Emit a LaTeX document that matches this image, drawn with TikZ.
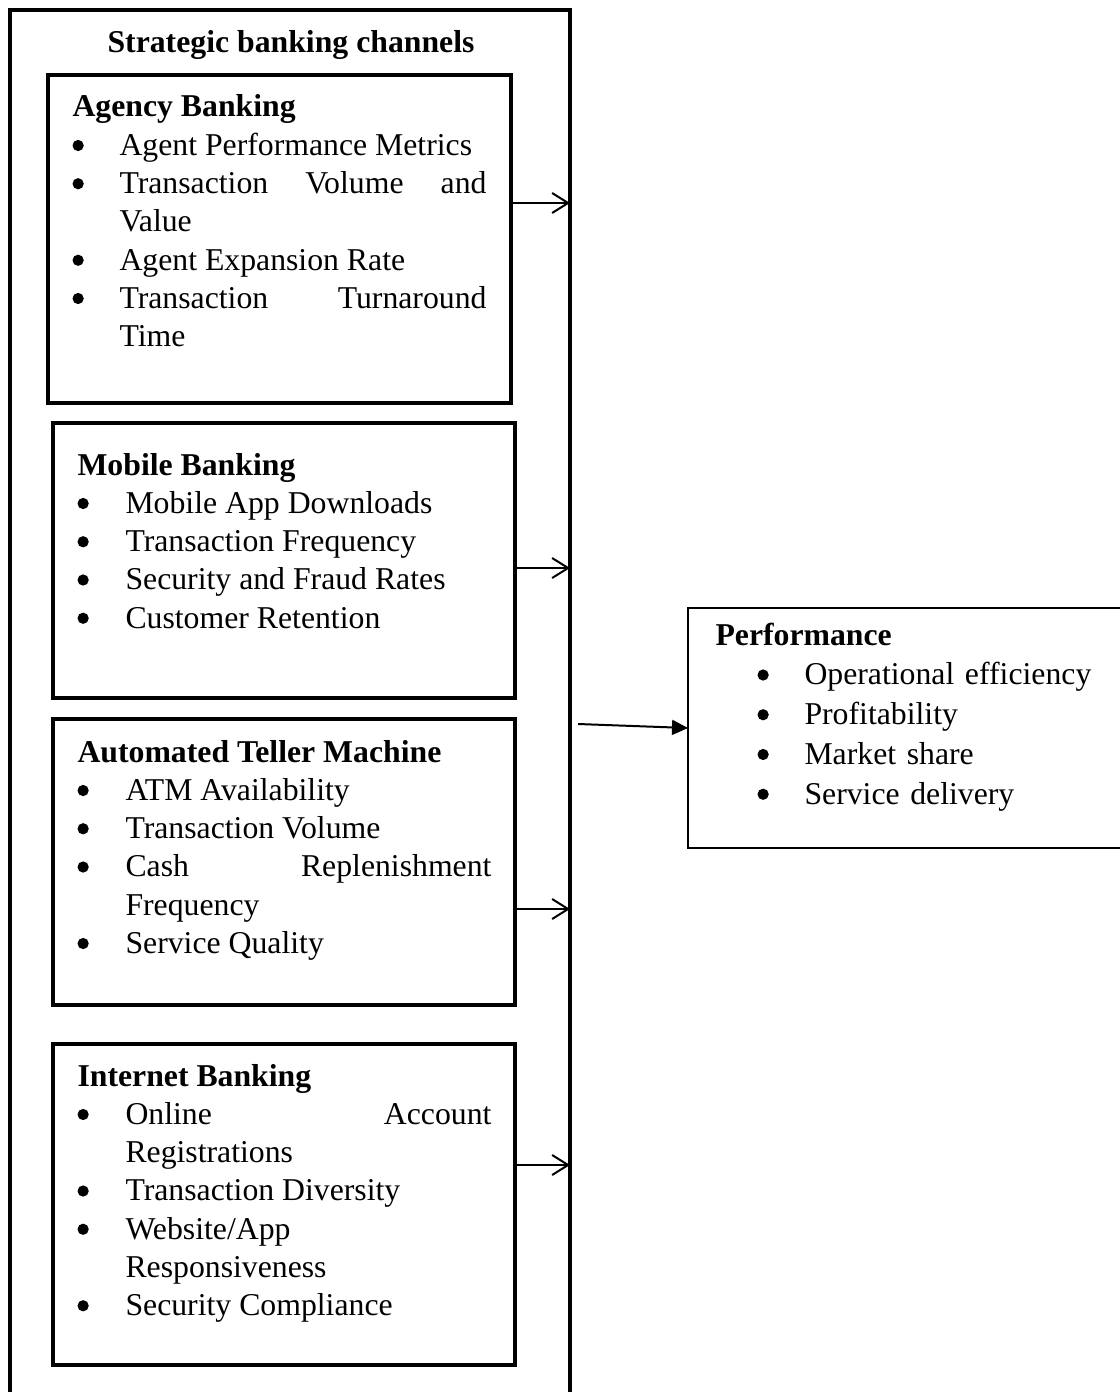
\documentclass[tikz,border=0pt]{standalone}
\usepackage{fontspec}
\setmainfont{Liberation Serif}
\usepackage{tikz}
\usetikzlibrary{arrows.meta}
\hyphenpenalty=10000
\tolerance=9999
\hbadness=10000
\newcommand{\listfont}{\fontsize{12.7}{15.3}\selectfont}
\newcommand{\bigbullet}{\tikz[baseline=-3.9pt]\fill (0pt,0pt) circle (2.25pt);}
\newcommand{\bulletlabel}[1]{#1\hfil}
% #1 = where the bullet sits, #2 = where the item text starts
\newenvironment{bullets}[2]{\begin{list}{\bigbullet}{%
  \setlength{\leftmargin}{#2}\setlength{\labelwidth}{\dimexpr#2-#1\relax}%
  \setlength{\labelsep}{0pt}\setlength{\itemindent}{0pt}%
  \setlength{\topsep}{0pt}\setlength{\partopsep}{0pt}%
  \setlength{\itemsep}{0pt}\setlength{\parsep}{0pt}%
  \let\makelabel\bulletlabel}}{\end{list}}
\tikzset{
  outerbox/.style={draw,line width=1.8pt,anchor=north west,inner sep=0pt,outer sep=0pt},
  chanbox/.style={draw,line width=1.6pt,anchor=north west,inner sep=0pt,outer sep=0pt},
  perfbox/.style={draw,line width=0.6pt,anchor=north west,inner sep=0pt,outer sep=0pt},
  chantext/.style={anchor=base west,inner sep=0pt,text width=165.6pt,align=justify,font=\listfont},
  perftext/.style={anchor=base west,inner sep=0pt,text width=160pt,align=left,font=\listfont},
  barb/.style={-{Straight Barb[length=6.4pt,width=8pt]},line width=0.8pt},
  feed/.style={-{Triangle[length=6.4pt,width=6pt]},line width=0.8pt}
}
\begin{document}
\begin{tikzpicture}[x=0.4pt,y=-0.4pt]
\useasboundingbox (0,0) rectangle (1119,1392);
\node[outerbox,minimum width=224pt,minimum height=564pt] (channels) at (10,10) {};
\node[anchor=base,inner sep=0pt,font=\listfont\bfseries] (title) at (291,53) {Strategic banking channels};
% channel boxes
\node[chanbox,minimum width=185.2pt,minimum height=131.2pt] (agency) at (48,75) {};
\node[chanbox,minimum width=184.8pt,minimum height=110pt] (mobile) at (53,423) {};
\node[chanbox,minimum width=184.8pt,minimum height=114.4pt] (atm) at (53,719) {};
\node[chanbox,minimum width=184.8pt,minimum height=128.4pt] (internet) at (53,1044) {};
\node[chantext] (agencytxt) at (72,117) {\textbf{Agency Banking}
  \begin{bullets}{0pt}{18.8pt}
  \item Agent Performance Metrics
  \item Transaction Volume and Value
  \item Agent Expansion Rate
  \item Transaction Turnaround Time
  \end{bullets}};
\node[chantext] (mobiletxt) at (77,475) {\textbf{Mobile Banking}
  \begin{bullets}{0pt}{19.2pt}
  \item Mobile App Downloads
  \item Transaction Frequency
  \item Security and Fraud Rates
  \item Customer Retention
  \end{bullets}};
\node[chantext] (atmtxt) at (77,762) {\textbf{Automated Teller Machine}
  \begin{bullets}{0pt}{19.2pt}
  \item ATM Availability
  \item Transaction Volume
  \item Cash Replenishment Frequency
  \item Service Quality
  \end{bullets}};
\node[chantext] (internettxt) at (77,1086) {\textbf{Internet Banking}
  \begin{bullets}{0pt}{19.2pt}
  \item Online Account Registrations
  \item Transaction Diversity
  \item Website/App Responsiveness
  \item Security Compliance
  \end{bullets}};
% performance
\node[perfbox,minimum width=184pt,minimum height=96pt] (perf) at (688,608) {};
\node[perftext] (perftxt) at (715,645) {\textbf{Performance}\par\vspace{0.6pt}
  \begin{bullets}{16.8pt}{35.6pt}
  \item Operational efficiency\vspace{0.6pt}
  \item Profitability\vspace{0.6pt}
  \item Market share\vspace{0.6pt}
  \item Service delivery
  \end{bullets}};
% arrows
\draw[barb] ([yshift=14.4pt]agency.east) -- ([yshift=14.4pt]agency.east -| channels.east);
\draw[barb] ([yshift=-3pt]mobile.east) -- ([yshift=-3pt]mobile.east -| channels.east);
\draw[barb] ([yshift=-18.8pt]atm.east) -- ([yshift=-18.8pt]atm.east -| channels.east);
\draw[barb] ([yshift=15.8pt]internet.east) -- ([yshift=15.8pt]internet.east -| channels.east);
\draw[feed] ([xshift=3.2pt,yshift=1.6pt]perf.west -| channels.east) -- (perf.west);
\end{tikzpicture}
\end{document}
